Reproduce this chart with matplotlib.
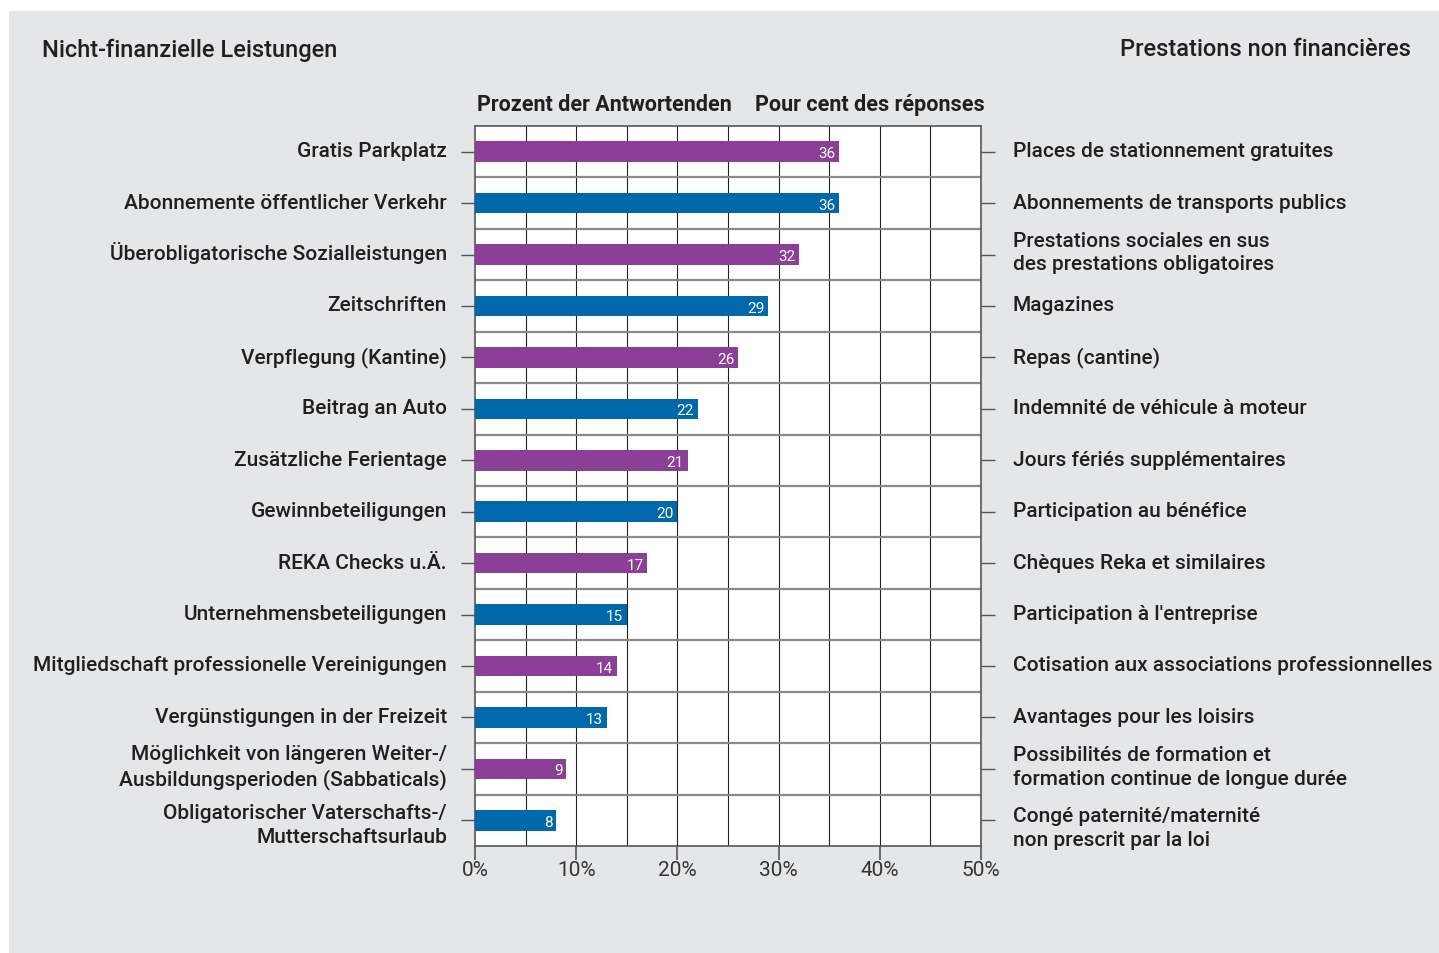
import numpy as np
import matplotlib
matplotlib.use('Agg')
import matplotlib.pyplot as plt

plt.rcParams['font.family'] = ['Roboto', 'DejaVu Sans']

# data, top to bottom
labels_de = ['Gratis Parkplatz', 'Abonnemente öffentlicher Verkehr',
             'Überobligatorische Sozialleistungen', 'Zeitschriften',
             'Verpflegung (Kantine)', 'Beitrag an Auto', 'Zusätzliche Ferientage',
             'Gewinnbeteiligungen', 'REKA Checks u.Ä.', 'Unternehmensbeteiligungen',
             'Mitgliedschaft professionelle Vereinigungen',
             'Vergünstigungen in der Freizeit',
             'Möglichkeit von längeren Weiter-/\nAusbildungsperioden (Sabbaticals)',
             'Obligatorischer Vaterschafts-/\nMutterschaftsurlaub']
labels_fr = ['Places de stationnement gratuites', 'Abonnements de transports publics',
             'Prestations sociales en sus\ndes prestations obligatoires', 'Magazines',
             'Repas (cantine)', 'Indemnité de véhicule à moteur',
             'Jours fériés supplémentaires', 'Participation au bénéfice',
             'Chèques Reka et similaires', "Participation à l'entreprise",
             'Cotisation aux associations professionnelles',
             'Avantages pour les loisirs',
             'Possibilités de formation et\nformation continue de longue durée',
             'Congé paternité/maternité\nnon prescrit par la loi']
values = [36, 36, 32, 29, 26, 22, 21, 20, 17, 15, 14, 13, 9, 8]
xticks = [0, 10, 20, 30, 40, 50]

purple = '#8b3f96'
blue = '#0068ab'
panel = '#e5e6e8'
txt = '#231f20'

W, H = 1439, 954
fig = plt.figure(figsize=(W / 100, H / 100), dpi=100)
fig.patch.set_facecolor('white')
bg = fig.add_axes([9 / W, 0, 1 - 9 / W, 1 - 12 / H])
bg.set_facecolor(panel)
bg.set_xticks([])
bg.set_yticks([])
for s in bg.spines.values():
    s.set_visible(False)

ax = fig.add_axes([475 / W, 107 / H, 506 / W, 720 / H])
ax.set_facecolor('white')
n = len(values)
y = np.arange(n)
colors = [purple if i % 2 == 0 else blue for i in range(n)]
ax.barh(y, values, height=0.4, color=colors, zorder=3)
for yi, v in zip(y, values):
    ax.text(v - 0.35, yi + 0.03, str(v), color='white', ha='right', va='center',
            fontsize=11, zorder=4)

ax.set_xlim(0, 50)
ax.set_ylim(n - 0.5, -0.5)
for xv in range(5, 50, 5):
    ax.axvline(xv, color='#222222', lw=0.8, zorder=1)
for yb in np.arange(0.5, n - 0.5, 1):
    ax.axhline(yb, color='#8a8a8a', lw=1.6, zorder=1)

for s in ax.spines.values():
    s.set_color('#555555')
    s.set_linewidth(1.2)

ax.set_xticks(xticks)
ax.set_xticklabels([f'{t}%' for t in xticks], fontsize=15, color='#333333')
ax.tick_params(axis='x', length=10, width=1.2, color='#555555', pad=0)
ax.set_yticks(y)
ax.set_yticklabels([])
ax.tick_params(axis='y', length=10, width=1, color='#555555',
               left=True, right=True)

# category labels on both sides
tr = ax.get_yaxis_transform()
for yi, de, fr in zip(y, labels_de, labels_fr):
    if yi == n - 1:
        dy_l, dy_r = 0.08, 0.14
    elif '\n' in de or '\n' in fr:
        dy_l = dy_r = -0.05
    else:
        dy_l = dy_r = -0.02
    ax.text(-28 / 506, yi + dy_l, de, transform=tr, ha='right', va='center',
            fontsize=15, color=txt, fontweight='medium', linespacing=1.3,
            clip_on=False)
    ax.text(1 + 32 / 506, yi + dy_r, fr, transform=tr, ha='left', va='center',
            fontsize=15, color=txt, fontweight='medium', linespacing=1.3,
            clip_on=False)

fig.text(42 / W, 1 - 50 / H, 'Nicht-finanzielle Leistungen', fontsize=17,
         color=txt, va='center', ha='left', fontweight='medium')
fig.text(1411 / W, 1 - 50 / H, 'Prestations non financières', fontsize=17,
         color=txt, va='center', ha='right', fontweight='medium')
fig.text(732 / W, 1 - 105 / H, 'Prozent der Antwortenden', fontsize=15.5,
         color=txt, va='center', ha='right', fontweight='bold')
fig.text(755 / W, 1 - 105 / H, 'Pour cent des réponses', fontsize=15.5,
         color=txt, va='center', ha='left', fontweight='bold')

fig.savefig('out.png', dpi=100)
